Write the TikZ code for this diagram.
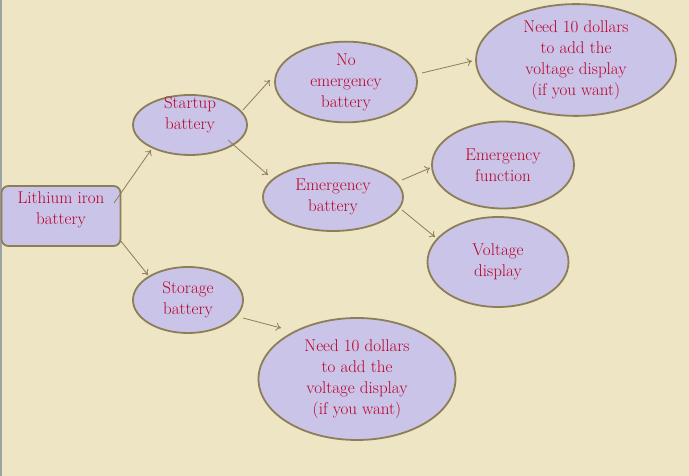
\documentclass[tikz,border=0pt]{standalone}
\usepackage{fontspec}
\usetikzlibrary{shapes.geometric,calc,arrows.meta}
\definecolor{bg}{HTML}{EEE5C4}
\definecolor{nodefill}{HTML}{C9C4E8}
\definecolor{edge}{HTML}{8C7E57}
\definecolor{txt}{HTML}{BA0028}
\definecolor{leftline}{HTML}{9AA3A8}
\begin{document}
\begin{tikzpicture}[x=1pt,y=1pt,
  every node/.style={font=\fontsize{17}{21}\selectfont, text=txt, align=center},
  bubble/.style={ellipse, draw=edge, line width=1.8pt, fill=nodefill, inner sep=0pt},
  rootbox/.style={rectangle, rounded corners=7pt, draw=edge, line width=1.8pt, fill=nodefill, inner sep=0pt, minimum width=119pt, minimum height=60pt},
  link/.style={draw=edge, line width=0.8pt, -{To[length=5pt,width=8pt]}}]
\fill[bg] (0,0) rectangle (689,476);
\fill[leftline] (0,0) rectangle (1.5,476);
\useasboundingbox (0,0) rectangle (689,476);

\node[rootbox] (lith) at (61,260) {\begin{tabular}{@{}c@{}}Lithium iron\\battery\rule[-18pt]{0pt}{18pt}\end{tabular}};
\node[bubble, minimum width=114pt, minimum height=60pt] (start) at (190,351) {\raisebox{5.5pt}[0pt][0pt]{\begin{tabular}{@{}c@{}}Startup\\battery\end{tabular}}};
\node[bubble, minimum width=142pt, minimum height=73pt] (noem) at (346,394) {No\\emergency\\battery};
\node[bubble, minimum width=200pt, minimum height=111pt] (need1) at (576,416) {Need 10 dollars\\to add the\\voltage display\\(if you want)};
\node[bubble, minimum width=140pt, minimum height=68pt] (emerg) at (333,279) {Emergency\\battery};
\node[bubble, minimum width=142pt, minimum height=87pt] (efunc) at (503,311) {Emergency\\function};
\node[bubble, minimum width=141pt, minimum height=90pt] (volt) at (498,214) {Voltage\\display};
\node[bubble, minimum width=110pt, minimum height=66pt] (store) at (188,176) {Storage\\battery};
\node[bubble, minimum width=197pt, minimum height=122pt] (need2) at (357,97) {Need 10 dollars\\to add the\\voltage display\\(if you want)};

\draw[link] ($(lith.center)+(53,13)$) -- ($(start.center)+(-39,-25)$);
\draw[link] ($(lith.center)+(59,-24)$) -- ($(store.center)+(-40,25)$);
\draw[link] ($(start.center)+(53,15)$) -- ($(noem.center)+(-76,2)$);
\draw[link] ($(start.center)+(38,-15)$) -- ($(emerg.center)+(-65,22)$);
\draw[link] ($(noem.center)+(76,9)$) -- ($(need1.center)+(-104,-1)$);
\draw[link] ($(emerg.center)+(69,17)$) -- ($(efunc.center)+(-73,-3)$);
\draw[link] ($(emerg.center)+(69,-13)$) -- ($(volt.center)+(-63,25)$);
\draw[link] ($(store.center)+(55,-18)$) -- ($(need2.center)+(-76,51)$);
\end{tikzpicture}
\end{document}
